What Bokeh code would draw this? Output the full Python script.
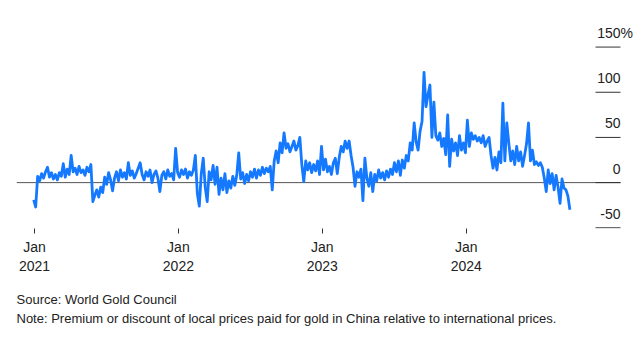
import pandas as pd
from bokeh.plotting import figure
from bokeh.models import (Range1d, FixedTicker, DatetimeTickFormatter, DatetimeAxis,
                          LabelSet, ColumnDataSource, Title)
from bokeh.core.properties import value
from bokeh.embed import file_html
from bokeh.resources import INLINE

# ---- data (one reading every 5 days) ----
start_date = "2020-12-30"
step = "5D"
premium = [
    -19, -27, 7, 2, 10, 5, 12, 17, 6, 11,
    4, 9, 3, 11, 7, 21, 6, 15, 9, 30,
    12, 16, 9, 18, 11, 14, 8, 17, 12, 20,
    -21, -14, -8, -16, -5, -11, 6, -2, 11, 3,
    -9, 5, 12, 2, 14, 6, 11, 4, 22, 8,
    13, 5, 10, 16, 22, 9, 3, 12, 7, 14,
    0, 9, 13, 5, -10, 8, 12, 4, 14, 7,
    10, 3, 38, 11, 6, 14, 9, 15, 5, 12,
    8, 14, 30, -12, -26, 10, 27, -5, -21, 12,
    3, 19, -2, 17, -13, 5, -8, 10, -11, 2,
    -6, 7, -3, 8, 33, 4, 11, -1, 9, 2,
    12, 6, 15, 5, 14, 8, 17, 10, 16, 12,
    18, -8, 24, 35, 22, 44, 33, 55, 38, 43,
    34, 40, 46, 36, 41, 50, 20, 1, 24, 14,
    22, 11, 20, 13, 24, 9, 40, 14, 26, 12,
    18, 9, 22, 27, 10, 28, 40, 34, 46, 38,
    46, 30, 17, -4, 12, 6, 15, -20, 27, 5,
    -4, 11, -10, 9, 2, 14, 5, 11, 3, 13,
    6, 15, 9, 22, 12, 24, 8, 25, 16, 30,
    24, 44, 36, 66, 45, 36, 57, 68, 122, 84,
    97, 108, 50, 89, 52, 47, 55, 40, 49, 31,
    75, 18, 48, 35, 44, 30, 52, 36, 44, 33,
    69, 40, 55, 48, 52, 46, 50, 44, 52, 40,
    46, 50, 30, 16, 28, 14, 34, 22, 88, 24,
    66, 44, 24, 35, 20, 40, 24, 34, 18, 30,
    43, 66, 24, 36, 20, 23, 19, 22, 17, 5,
    -10, 14, -1, 10, -8, 8, -5, -23, 4, -6,
    -8, -15, -30,
]
dates = pd.date_range(start_date, periods=len(premium), freq=step)

y_ticks = [-50, 0, 50, 100, 150]
y_tick_labels = ["-50", "0", "50", "100", "150"]
y_unit = "%"
x_tick_dates = ["2021-01-01", "2022-01-01", "2023-01-01", "2024-01-01"]

source_text = "Source: World Gold Council"
note_text = ("Note: Premium or discount of local prices paid for gold in China "
             "relative to international prices.")

# ---- layout constants ----
FONT = "Liberation Sans"
TEXT = "#222222"
BLUE = "#1479ff"
FRAME_LEFT, FRAME_RIGHT = 16, 637          # canvas px
DAYS_PER_PX = 365.25 / 144.0
x_start = pd.Timestamp("2020-11-16 08:00")
x_end = x_start + pd.Timedelta(days=(FRAME_RIGHT - FRAME_LEFT) * DAYS_PER_PX)
tick_x0 = x_start + pd.Timedelta(days=(595 - FRAME_LEFT) * DAYS_PER_PX)
tick_x1 = x_start + pd.Timedelta(days=(620 - FRAME_LEFT) * DAYS_PER_PX)


def ms(ts):
    return pd.Timestamp(ts).value / 1e6


p = figure(width=637, height=342, x_axis_type="datetime", y_axis_location=None,
           x_range=Range1d(ms(x_start), ms(x_end)), y_range=Range1d(-50.77, 179.4),
           output_backend="svg", toolbar_location=None,
           min_border_left=FRAME_LEFT, min_border_right=0, min_border_top=20,
           min_border_bottom=114)
p.grid.visible = False
p.outline_line_color = None

# zero line (frame left to the tick column)
p.segment(x0=[ms(x_start)], y0=[0], x1=[ms(tick_x1)], y1=[0],
          line_color="#555555", line_width=1)

# data line
p.line(dates, premium, line_color=BLUE, line_width=2.8, line_join="round")

# short horizontal y tick lines at the right
n = len(y_ticks)
p.segment(x0=[ms(tick_x0)] * n, y0=y_ticks, x1=[ms(tick_x1)] * n, y1=y_ticks,
          line_color="#333333", line_width=1)

# y tick labels above their tick lines
lab_src = ColumnDataSource(dict(x=[ms(tick_x1)] * n, y=y_ticks, text=y_tick_labels))
p.add_layout(LabelSet(x="x", y="y", text="text", source=lab_src, text_align="right",
                      text_baseline="alphabetic", y_offset=9, text_font=value(FONT),
                      text_font_size=value("14px"), text_color=TEXT))
unit_src = ColumnDataSource(dict(x=[ms(tick_x1)], y=[y_ticks[-1]], text=[y_unit]))
p.add_layout(LabelSet(x="x", y="y", text="text", source=unit_src, text_align="left",
                      text_baseline="alphabetic", y_offset=9, text_font=value(FONT),
                      text_font_size=value("14px"), text_color=TEXT))

# x axis: months
tick_ms = [ms(d) for d in x_tick_dates]
xa = p.xaxis[0]
xa.ticker = FixedTicker(ticks=tick_ms)
xa.formatter = DatetimeTickFormatter(years="%b", months="%b", days="%b")
xa.major_tick_out = 5
xa.major_tick_in = 0
xa.major_tick_line_color = "#333333"
xa.minor_tick_line_color = None
xa.axis_line_color = None
xa.major_label_standoff = 5
xa.major_label_text_font = FONT
xa.major_label_text_font_size = "14px"
xa.major_label_text_color = TEXT

# second x axis: years
xa2 = DatetimeAxis(ticker=FixedTicker(ticks=tick_ms),
                   formatter=DatetimeTickFormatter(years="%Y", months="%Y", days="%Y"),
                   major_tick_out=0, major_tick_in=0, minor_tick_line_color=None,
                   axis_line_color=None, major_label_standoff=3,
                   major_label_text_font=FONT, major_label_text_font_size="14px",
                   major_label_text_color=TEXT)
p.add_layout(xa2, "below")

# footer (two lines in one title block)
p.add_layout(Title(text=source_text + "\n" + note_text, align="left", text_font=FONT,
                   text_font_size="13px", text_font_style="normal", text_color=TEXT,
                   text_line_height=1.25, standoff=32), "below")

open("out.html", "w").write(file_html(p, INLINE))
